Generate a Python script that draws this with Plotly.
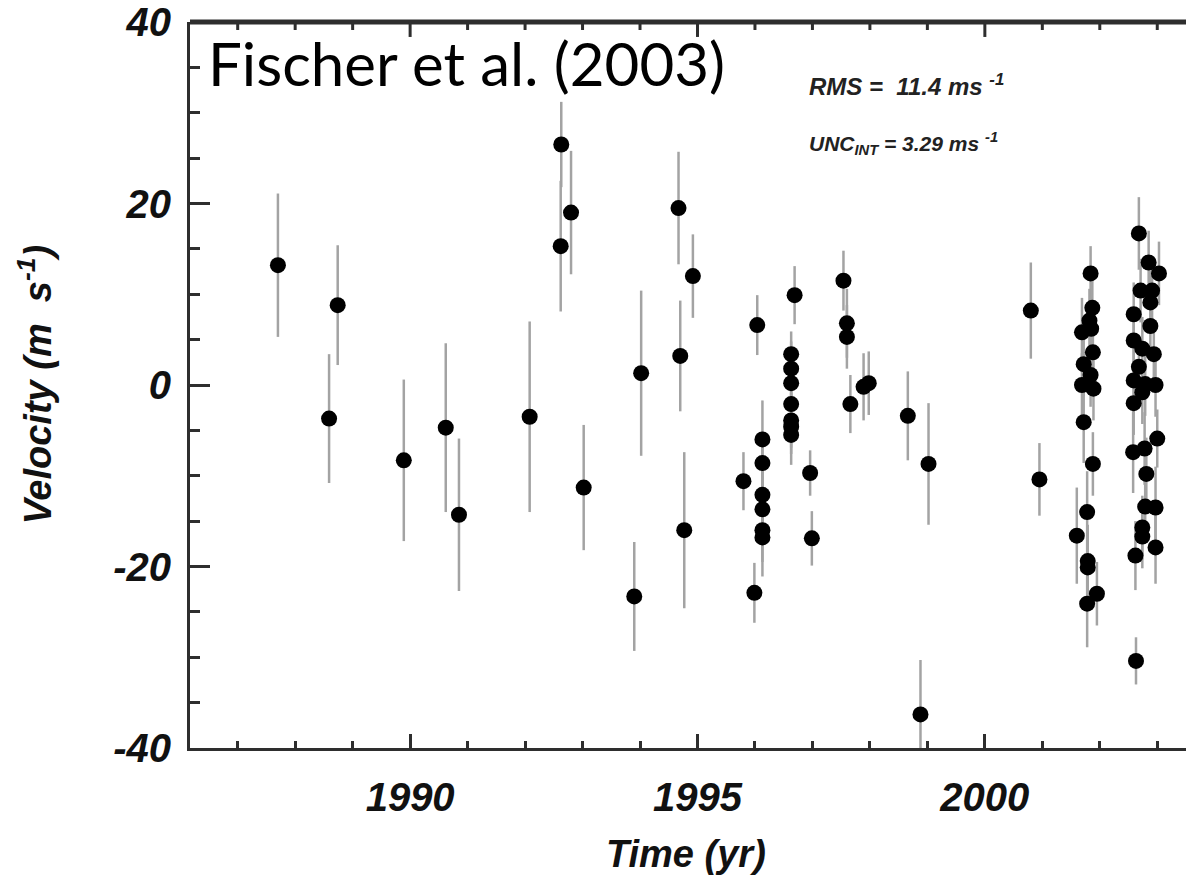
import plotly.graph_objects as go

# Radial-velocity residuals: epoch (yr), velocity (m/s), internal error (m/s)
epoch = [
    1987.70, 1988.59, 1988.74, 1989.89, 1990.62, 1990.85, 1992.08, 1992.63,
    1992.62, 1992.80, 1993.02, 1993.90, 1994.02, 1994.67, 1994.70, 1994.77,
    1994.92, 1995.80, 1995.99, 1996.04,
    1996.13, 1996.13, 1996.13, 1996.13, 1996.13, 1996.13,
    1996.69,
    1996.63, 1996.63, 1996.63, 1996.63, 1996.63, 1996.63, 1996.63,
    1996.96, 1996.99, 1997.54, 1997.60, 1997.60, 1997.66, 1997.89, 1997.98,
    1998.66, 1999.02, 1998.88, 2000.80, 2000.95,
    2001.84, 2001.87, 2001.82, 2001.85, 2001.69, 2001.88, 2001.72, 2001.84,
    2001.69, 2001.89, 2001.72, 2001.88, 2001.78, 2001.60, 2001.79, 2001.79,
    2001.95, 2001.78,
    2002.68, 2002.85, 2003.03, 2002.71, 2002.91, 2002.88, 2002.59, 2002.88,
    2002.59, 2002.74, 2002.94, 2002.68, 2002.59, 2002.79, 2002.97, 2002.74,
    2002.59, 2003.00, 2002.58, 2002.78, 2002.81, 2002.79, 2002.97, 2002.74,
    2002.74, 2002.97, 2002.62, 2002.63,
]
velocity = [
    13.2, -3.7, 8.8, -8.3, -4.7, -14.3, -3.5, 26.5,
    15.3, 19.0, -11.3, -23.3, 1.3, 19.5, 3.2, -16.0,
    12.0, -10.6, -22.9, 6.6,
    -6.0, -8.6, -12.1, -13.7, -16.0, -16.8,
    9.9,
    3.4, 1.8, 0.2, -2.1, -3.9, -4.6, -5.5,
    -9.7, -16.9, 11.5, 6.8, 5.3, -2.1, -0.2, 0.2,
    -3.4, -8.7, -36.3, 8.2, -10.4,
    12.3, 8.5, 7.1, 6.2, 5.8, 3.6, 2.3, 1.1,
    0.0, -0.4, -4.1, -8.7, -14.0, -16.6, -19.4, -20.1,
    -23.0, -24.1,
    16.7, 13.5, 12.3, 10.4, 10.4, 9.1, 7.8, 6.5,
    4.9, 4.0, 3.4, 2.0, 0.5, 0.1, 0.0, -0.8,
    -2.0, -5.9, -7.4, -7.0, -9.8, -13.4, -13.5, -15.7,
    -16.7, -17.9, -18.8, -30.4,
]
error = [
    7.9, 7.1, 6.6, 8.9, 9.3, 8.4, 10.5, 4.7,
    7.2, 6.8, 6.9, 6.0, 9.1, 6.2, 6.1, 8.6,
    4.6, 3.2, 3.3, 3.3,
    4.3, 3.5, 3.5, 3.5, 3.5, 4.3,
    3.2,
    2.5, 3.0, 3.0, 3.0, 3.0, 3.0, 3.3,
    2.5, 3.0, 3.3, 3.8, 3.5, 3.2, 3.7, 3.5,
    4.9, 6.7, 6.0, 5.3, 4.0,
    3.0, 3.5, 3.5, 3.5, 3.8, 3.5, 3.5, 3.5,
    3.5, 3.5, 4.5, 3.5, 4.5, 5.3, 4.0, 4.0,
    3.5, 4.8,
    4.0, 3.5, 3.5, 3.5, 3.5, 3.5, 3.5, 3.5,
    3.5, 3.5, 3.5, 3.5, 3.5, 3.5, 3.5, 3.5,
    3.5, 3.2, 4.5, 4.0, 4.0, 3.5, 4.5, 3.5,
    3.5, 4.0, 3.8, 2.6,
]

x_ticks = [1990, 1995, 2000]
x_tick_labels = ["1990", "1995", "2000"]
y_ticks = [-40, -20, 0, 20, 40]
y_tick_labels = ["-40", "-20", "0", "20", "40"]
x_range = [1986.17, 2003.50]
top_tick_years = list(range(1987, 2004))

AXIS = "#2e2e2e"
PLOT_HEIGHT_PX = 882 - 20 - 134
LABEL_FONT = dict(family="Liberation Sans, Arial, sans-serif", size=40,
                  color="#111111", weight="bold", style="italic")
TITLE_FONT = dict(family="Liberation Sans, Arial, sans-serif", size=38,
                  color="#111111", weight="bold", style="italic")

fig = go.Figure()
fig.add_trace(go.Scatter(
    x=epoch, y=velocity, mode="markers",
    marker=dict(size=16, color="black", line=dict(width=0)),
    error_y=dict(type="data", array=error, visible=True,
                 color="#a3a3a3", thickness=2.5, width=0),
    showlegend=False,
))

fig.update_layout(
    width=1186, height=882,
    margin=dict(l=190, r=0, t=20, b=134),
    paper_bgcolor="white", plot_bgcolor="white",
    xaxis=dict(
        range=x_range, showgrid=False, zeroline=False,
        showline=True, linecolor=AXIS, linewidth=3,
        tickmode="array", tickvals=x_ticks, ticktext=x_tick_labels,
        ticks="inside", ticklen=14, tickwidth=2.5, tickcolor=AXIS,
        ticklabelstandoff=12, tickfont=LABEL_FONT,
        minor=dict(tick0=1986, dtick=1, ticks="inside", ticklen=7,
                   tickwidth=2.5, tickcolor=AXIS, showgrid=False),
    ),
    yaxis=dict(
        range=[-40, 40], showgrid=False, zeroline=False,
        showline=True, linecolor=AXIS, linewidth=3, mirror=False,
        tickmode="array", tickvals=y_ticks, ticktext=y_tick_labels,
        ticks="inside", ticklen=20, tickwidth=2.5, tickcolor=AXIS,
        ticklabelstandoff=8, ticklabeloverflow="allow", tickfont=LABEL_FONT,
        minor=dict(tick0=0, dtick=5, ticks="inside", ticklen=10,
                   tickwidth=2.5, tickcolor=AXIS, showgrid=False),
    ),
)

# frame edge along the top of the plotting area, with inward year ticks
fig.add_shape(type="line", xref="paper", yref="paper", layer="above",
              x0=0, x1=1, y0=1, y1=1, line=dict(color=AXIS, width=5))
for yr in top_tick_years:
    tick_px = 15 if yr % 5 == 0 else 8
    fig.add_shape(type="line", xref="x", yref="paper", layer="above",
                  x0=yr, x1=yr, y0=1, y1=1 - tick_px / PLOT_HEIGHT_PX,
                  line=dict(color=AXIS, width=3))

# Axis titles
fig.add_annotation(
    xref="paper", yref="paper", x=0.4982, y=-0.1466,
    xanchor="center", yanchor="middle", showarrow=False,
    text="Time (yr)", font=TITLE_FONT,
)
fig.add_annotation(
    xref="paper", yref="paper", x=-0.156, y=0.5,
    xanchor="center", yanchor="middle", showarrow=False, textangle=-90,
    text="Velocity (m  s<sup>-1</sup>)", font=TITLE_FONT,
)

# Citation and statistics inside the plot
fig.add_annotation(
    xref="paper", yref="paper", x=0.016, y=0.944,
    xanchor="left", yanchor="middle", showarrow=False,
    text="Fischer et al. (2003)",
    font=dict(family="Lato, sans-serif", size=60, color="black"),
)
fig.add_annotation(
    xref="paper", yref="paper", x=0.619, y=0.9137,
    xanchor="left", yanchor="middle", showarrow=False,
    text="RMS =  11.4 ms <sup>-1</sup>",
    font=dict(family="Liberation Sans, Arial, sans-serif", size=24,
              color="#222222", weight="bold", style="italic"),
)
fig.add_annotation(
    xref="paper", yref="paper", x=0.619, y=0.8329,
    xanchor="left", yanchor="middle", showarrow=False,
    text="UNC<sub>INT</sub> = 3.29 ms <sup>-1</sup>",
    font=dict(family="Liberation Sans, Arial, sans-serif", size=21,
              color="#222222", weight="bold", style="italic"),
)

fig.write_html("out.html")
